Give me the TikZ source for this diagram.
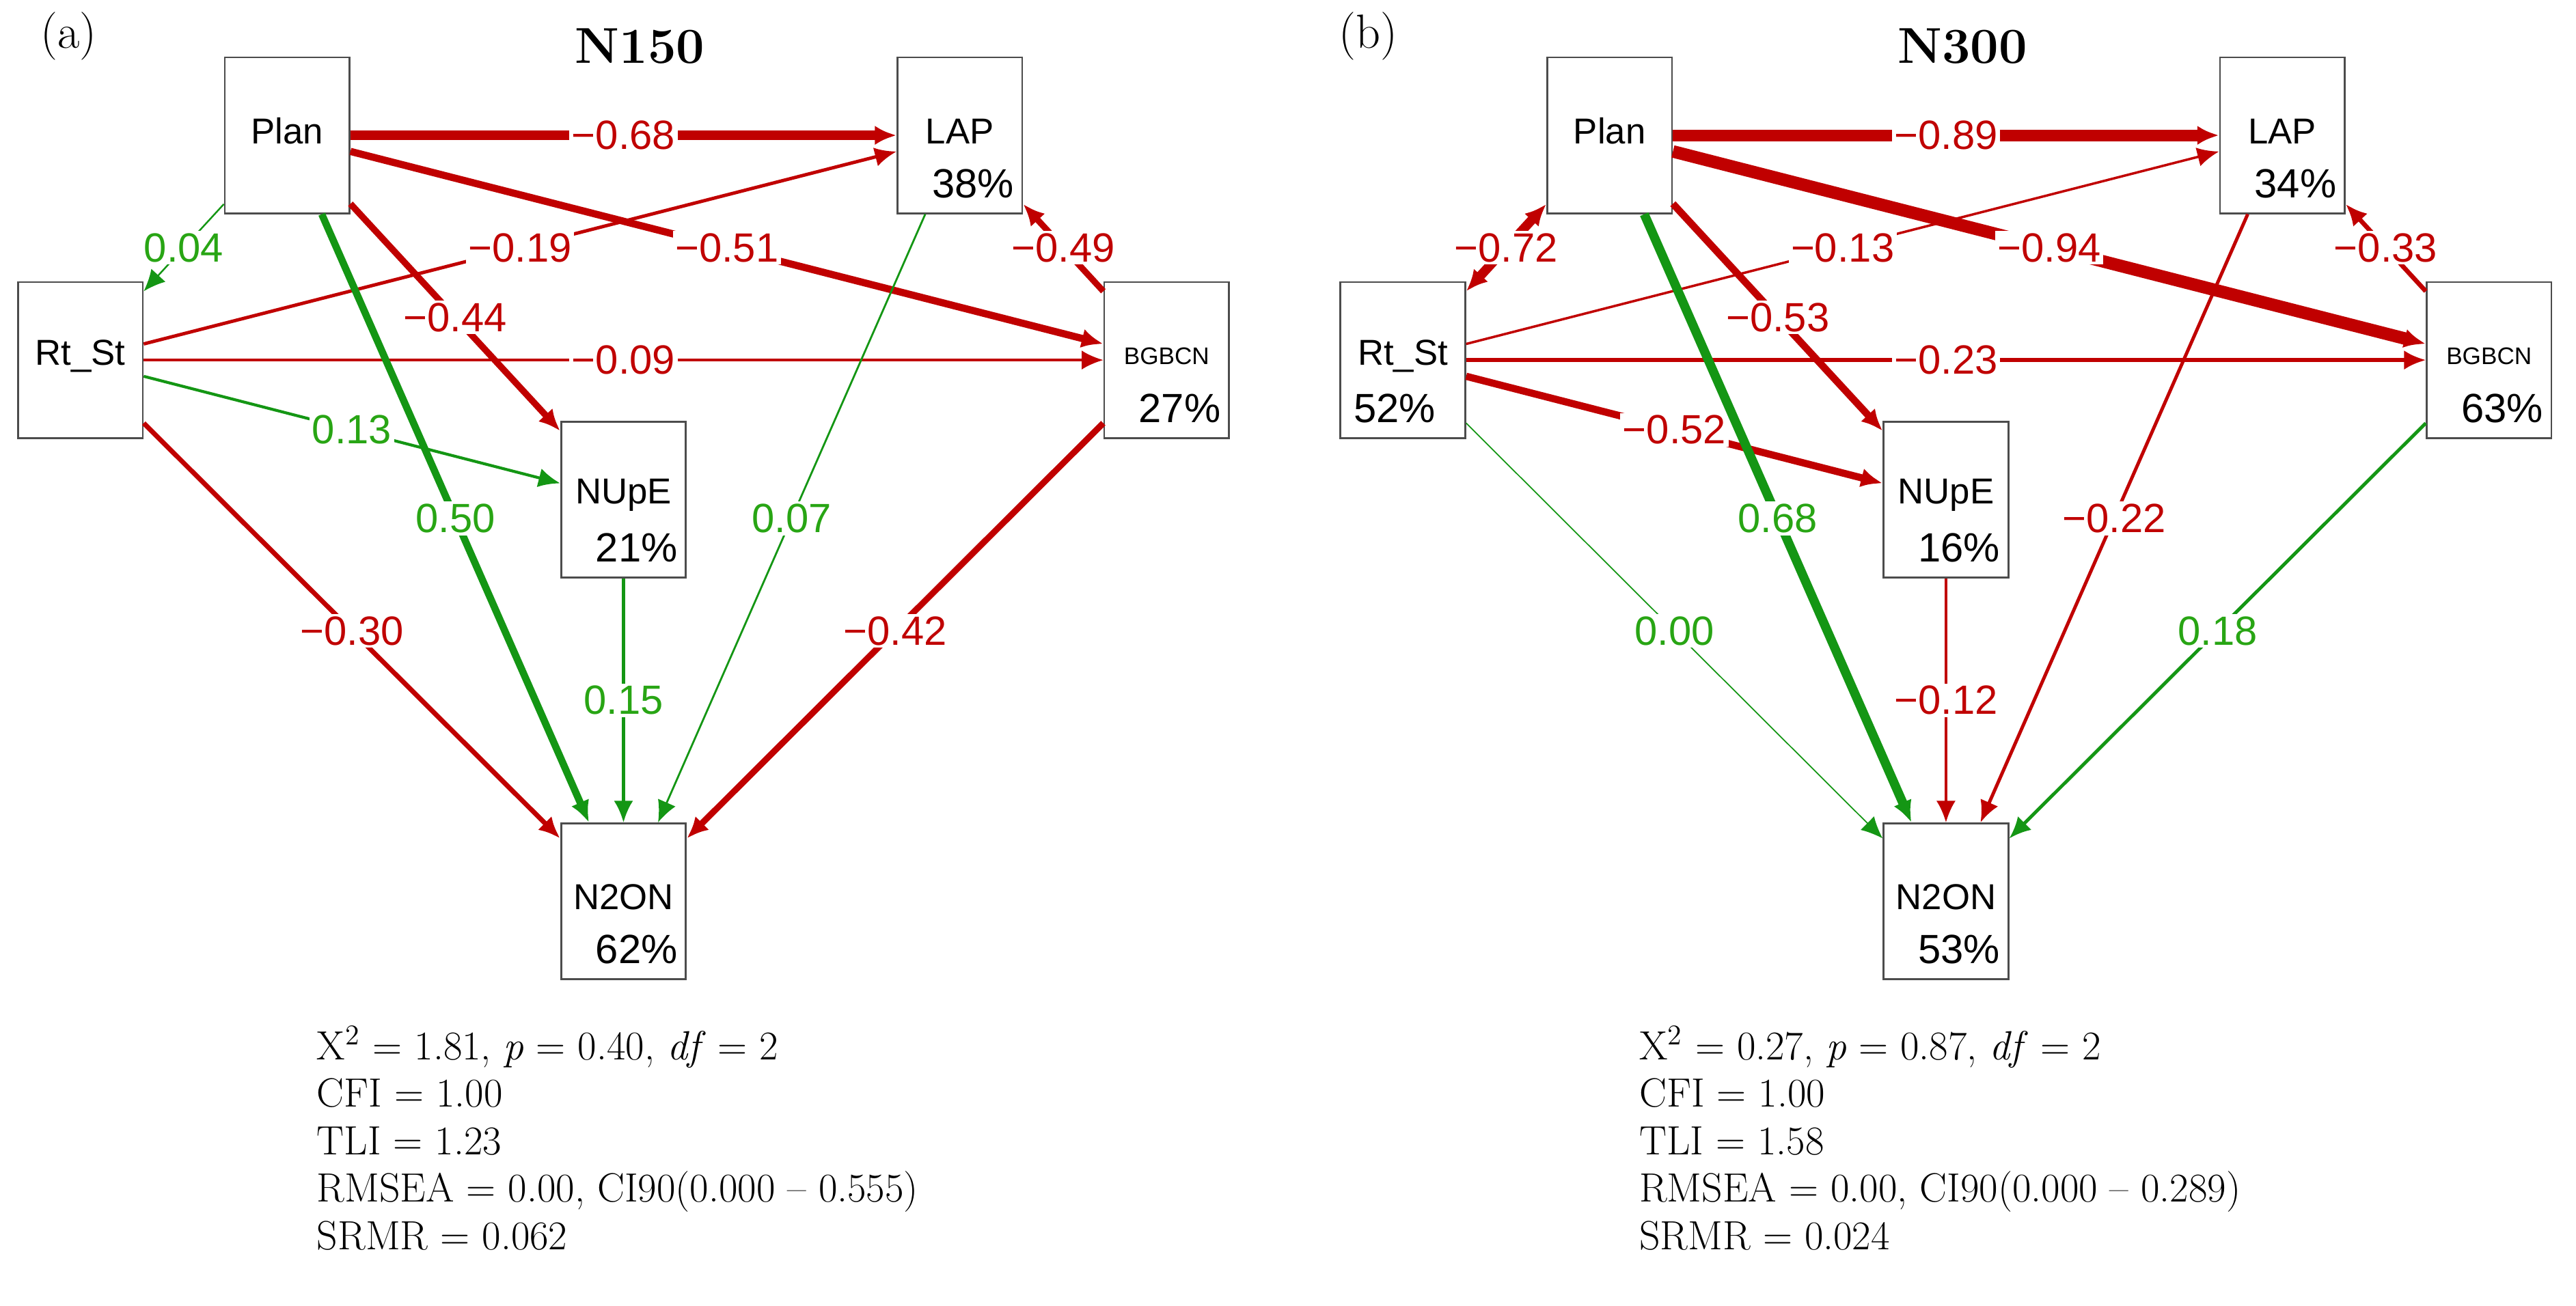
\documentclass[tikz,border=0pt]{standalone}
\usepackage{fontspec}
\usetikzlibrary{arrows.meta}
\newfontfamily\lsans{Liberation Sans}
\definecolor{cr}{RGB}{192,0,0}
\definecolor{cg}{RGB}{20,150,20}
\definecolor{cgl}{RGB}{40,165,20}
\begin{document}
\begin{tikzpicture}[x=0.024cm,y=-0.024cm,
  box/.style={draw=black!70,line width=0.8pt,minimum width=1.824cm,minimum height=2.28cm,inner sep=0pt},
  nm/.style={font=\lsans\fontsize{15}{15}\selectfont},
  pc/.style={font=\lsans\fontsize{17}{17}\selectfont},
  lab/.style={fill=white,inner sep=1pt,font=\lsans\fontsize{17}{17}\selectfont},
  tip/.style={-{Latex[length=9pt,width=8pt]}},
  btip/.style={{Latex[length=9pt,width=8pt]}-{Latex[length=9pt,width=8pt]}}]
\useasboundingbox (0,0) rectangle (1570,796);
\newcommand\mybox[6]{%
  \node[box] (#1) at (#2+38,#3+47.5) {};
  \node[nm,#6] at (#2+38,#3+45) {#4};
  \node[pc] at (#2+46,#3+77) {#5};}
% ---------- panel a
\node[font=\fontsize{20}{20}\selectfont] (ta) at (42,22) {(a)};
\node[font=\bfseries\fontsize{21}{21}\selectfont] (na) at (390,28) {N150};
\mybox{aPlan}{137}{35}{Plan}{}{}
\mybox{aLAP}{547}{35}{LAP}{38\%}{}
\mybox{aRt}{11}{172}{Rt\_St}{}{}
\mybox{aBG}{673}{172}{BGBCN}{27\%}{font=\lsans\fontsize{10}{10}\selectfont}
\mybox{aNU}{342}{257}{NUpE}{21\%}{}
\mybox{aN2}{342}{502}{N2ON}{62\%}{}
\draw[cr,line width=3.9pt,tip] (aPlan) -- node[lab,text=cr]{−0.68} (aLAP);
\draw[cr,line width=3.0pt,tip] (aPlan) -- node[lab,text=cr]{−0.51} (aBG);
\draw[cg,line width=0.7pt,tip] (aPlan) -- node[lab,text=cgl]{0.04} (aRt);
\draw[cr,line width=1.4pt,tip] (aRt) -- node[lab,text=cr]{−0.19} (aLAP);
\draw[cr,line width=1.0pt,tip] (aRt) -- node[lab,text=cr]{−0.09} (aBG);
\draw[cg,line width=1.2pt,tip] (aRt) -- node[lab,text=cgl]{0.13} (aNU);
\draw[cr,line width=2.0pt,tip] (aRt) -- node[lab,text=cr]{−0.30} (aN2);
\draw[cr,line width=2.7pt,tip] (aPlan) -- node[lab,text=cr]{−0.44} (aNU);
\draw[cg,line width=3.0pt,tip] (aPlan) -- node[lab,text=cgl]{0.50} (aN2);
\draw[cg,line width=0.8pt,tip] (aLAP) -- node[lab,text=cgl]{0.07} (aN2);
\draw[cg,line width=1.3pt,tip] (aNU) -- node[lab,text=cgl]{0.15} (aN2);
\draw[cr,line width=2.6pt,tip] (aBG) -- node[lab,text=cr]{−0.42} (aN2);
\draw[cr,line width=2.6pt,tip] (aBG) -- node[lab,text=cr]{−0.49} (aLAP);
\node[anchor=north west,align=left,font=\fontsize{17}{19.8}\selectfont] (sa) at (188,620)
 {X\textsuperscript{2} = 1.81, \textit{p} = 0.40, \textit{df} = 2\\CFI = 1.00\\TLI = 1.23\\RMSEA = 0.00, CI90(0.000 – 0.555)\\SRMR = 0.062};
% ---------- panel b
\node[font=\fontsize{20}{20}\selectfont] (tb) at (834,22) {(b)};
\node[font=\bfseries\fontsize{21}{21}\selectfont] (nb) at (1196,28) {N300};
\mybox{bPlan}{943}{35}{Plan}{}{}
\mybox{bLAP}{1353}{35}{LAP}{34\%}{}
\node[box] (bRt) at (855,219.5) {};
\node[nm] at (855,217) {Rt\_St};
\node[pc] at (850,249) {52\%};
\mybox{bBG}{1479}{172}{BGBCN}{63\%}{font=\lsans\fontsize{10}{10}\selectfont}
\mybox{bNU}{1148}{257}{NUpE}{16\%}{}
\mybox{bN2}{1148}{502}{N2ON}{53\%}{}
\draw[cr,line width=4.8pt,tip] (bPlan) -- node[lab,text=cr]{−0.89} (bLAP);
\draw[cr,line width=5.2pt,tip] (bPlan) -- node[lab,text=cr]{−0.94} (bBG);
\draw[cr,line width=3.9pt,btip] (bPlan) -- node[lab,text=cr]{−0.72} (bRt);
\draw[cr,line width=1.0pt,tip] (bRt) -- node[lab,text=cr]{−0.13} (bLAP);
\draw[cr,line width=1.5pt,tip] (bRt) -- node[lab,text=cr]{−0.23} (bBG);
\draw[cr,line width=3.0pt,tip] (bRt) -- node[lab,text=cr]{−0.52} (bNU);
\draw[cg,line width=0.5pt,tip] (bRt) -- node[lab,text=cgl]{0.00} (bN2);
\draw[cr,line width=3.0pt,tip] (bPlan) -- node[lab,text=cr]{−0.53} (bNU);
\draw[cg,line width=3.8pt,tip] (bPlan) -- node[lab,text=cgl]{0.68} (bN2);
\draw[cr,line width=1.4pt,tip] (bLAP) -- node[lab,text=cr]{−0.22} (bN2);
\draw[cr,line width=1.0pt,tip] (bNU) -- node[lab,text=cr]{−0.12} (bN2);
\draw[cg,line width=1.4pt,tip] (bBG) -- node[lab,text=cgl]{0.18} (bN2);
\draw[cr,line width=1.9pt,tip] (bBG) -- node[lab,text=cr]{−0.33} (bLAP);
\node[anchor=north west,align=left,font=\fontsize{17}{19.8}\selectfont] (sb) at (994,620)
 {X\textsuperscript{2} = 0.27, \textit{p} = 0.87, \textit{df} = 2\\CFI = 1.00\\TLI = 1.58\\RMSEA = 0.00, CI90(0.000 – 0.289)\\SRMR = 0.024};
\end{tikzpicture}
\end{document}
